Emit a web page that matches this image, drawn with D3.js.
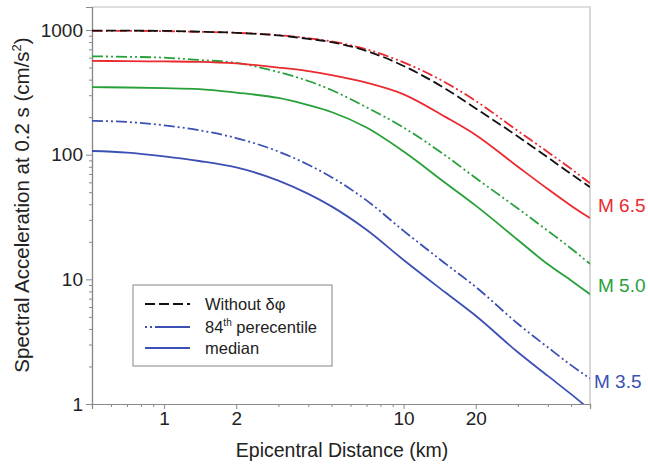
<!DOCTYPE html>
<html>
<head>
<meta charset="utf-8">
<script src="https://cdn.jsdelivr.net/npm/d3@7"></script>
<style>
  body { margin: 0; background: #fff; }
  svg { font-family: "Liberation Sans", Arial, sans-serif; }
</style>
</head>
<body>
<svg id="chart" width="648" height="466"></svg>
<script>
const SVG = d3.select('#chart');
const LEFT = 92;
const RIGHT = 590;
const TOP = 7;
const BOTTOM = 404;

// DATA
const distances = [0.5, 0.7, 1, 1.4, 2, 3, 4, 5, 7, 10, 15, 20, 30, 40, 50, 60];
const withoutDeltaPhi = [990, 988, 985, 970, 950, 905, 850, 800, 680, 515, 337, 235, 140, 95, 70, 55];
const m65p84 = [985, 984, 980, 968, 950, 910, 860, 810, 700, 550, 378, 270, 155, 105, 77, 59];
const m65Median = [565, 563, 560, 556, 540, 500, 468, 435, 378, 305, 200, 144, 80, 53, 39, 31];
const m50p84 = [615, 610, 600, 575, 545, 460, 390, 330, 240, 165, 98, 65, 37, 24.5, 17.7, 13.3];
const m50Median = [348, 346, 342, 336, 315, 285, 250, 220, 165, 106, 59, 39, 20.7, 13.2, 9.8, 7.6];
const m35p84 = [187, 183, 172, 157, 136, 106, 83, 66, 43, 24.5, 13.3, 8.7, 4.4, 2.85, 2.05, 1.6];
const m35Median = [107, 104, 97, 89, 79, 62, 48.5, 38.5, 25, 14.3, 7.8, 5.1, 2.6, 1.68, 1.2, 0.9];

const xMajorTicks = [1, 2, 10, 20];
const xMinorTicks = [0.6, 0.7, 0.8, 0.9, 3, 4, 5, 6, 7, 8, 9, 30, 40, 50];
const yMajorTicks = [1, 10, 100, 1000];
const yMinorTicks = [2, 3, 4, 5, 6, 7, 8, 9, 20, 30, 40, 50, 60, 70, 80, 90,
  200, 300, 400, 500, 600, 700, 800, 900];

const magLabels = ['M 6.5', 'M 5.0', 'M 3.5'];
const legendLabels = ['Without δφ', '84', 'median'];

const RED = '#ea2a2f';
const GREEN = '#27a03a';
const BLUE = '#3c50b4';
const DASHED = '10,4';
const DASH_DOT_DOT = '11,3,2,3,2,3';

const series = [
  { values: m35Median, color: BLUE, dash: null },
  { values: m35p84, color: BLUE, dash: DASH_DOT_DOT },
  { values: m50Median, color: GREEN, dash: null },
  { values: m50p84, color: GREEN, dash: DASH_DOT_DOT },
  { values: m65Median, color: RED, dash: null },
  { values: m65p84, color: RED, dash: DASH_DOT_DOT },
  { values: withoutDeltaPhi, color: '#111', dash: DASHED }
];

// SCALES
const x = d3.scaleLog().domain([0.5, 60]).range([LEFT, RIGHT]);
const y = d3.scaleLog().domain([1, 1530]).range([BOTTOM, TOP]);

SVG.append('clipPath').attr('id', 'plot-clip')
  .append('rect')
  .attr('x', LEFT).attr('y', TOP)
  .attr('width', RIGHT - LEFT).attr('height', BOTTOM - TOP);

// frame (top, right)
SVG.append('path')
  .attr('d', `M${LEFT},${TOP}H${RIGHT}V${BOTTOM}`)
  .attr('fill', 'none')
  .attr('stroke', '#bdbdbd')
  .attr('stroke-width', 1.2);

// AXES
const AXIS_COLOR = '#8a8a8a';

const xAxis = SVG.append('g').attr('transform', `translate(0,${BOTTOM})`);
xAxis.call(d3.axisBottom(x).tickValues(xMinorTicks).tickSize(3).tickFormat(''));
xAxis.append('g').call(d3.axisBottom(x).tickValues(xMajorTicks).tickSize(5).tickFormat(d3.format('d')));

const yAxis = SVG.append('g').attr('transform', `translate(${LEFT},0)`);
yAxis.call(d3.axisLeft(y).tickValues(yMinorTicks).tickSize(3).tickFormat(''));
yAxis.append('g').call(d3.axisLeft(y).tickValues(yMajorTicks).tickSize(6).tickFormat(d3.format('d')));

SVG.selectAll('.domain').attr('stroke', AXIS_COLOR).attr('stroke-width', 1.2);
SVG.selectAll('.tick line').attr('stroke', AXIS_COLOR);
SVG.selectAll('.tick text')
  .attr('fill', '#222')
  .style('font-size', '19px')
  .style('font-family', '"Liberation Sans", Arial, sans-serif');
xAxis.selectAll('.tick text').attr('y', 21).attr('dy', 0);
yAxis.selectAll('.tick text').attr('x', -9);

// axis titles
SVG.append('text')
  .attr('x', (LEFT + RIGHT) / 2 + 1)
  .attr('y', 457)
  .attr('text-anchor', 'middle')
  .attr('fill', '#222')
  .style('font-size', '19.5px')
  .text('Epicentral Distance (km)');

const yTitle = SVG.append('text')
  .attr('transform', 'translate(29,205) rotate(-90)')
  .attr('text-anchor', 'middle')
  .attr('fill', '#222')
  .style('font-size', '20.5px');
yTitle.append('tspan').text('Spectral Acceleration at 0.2 s (cm/s');
yTitle.append('tspan').attr('dy', -8).style('font-size', '13px').text('2');
yTitle.append('tspan').attr('dy', 8).text(')');

// CURVES
const line = d3.line()
  .x((d, i) => x(distances[i]))
  .y(d => y(d))
  .curve(d3.curveMonotoneX);

SVG.append('g')
  .attr('clip-path', 'url(#plot-clip)')
  .selectAll('path')
  .data(series)
  .join('path')
  .attr('d', d => line(d.values))
  .attr('fill', 'none')
  .attr('stroke', d => d.color)
  .attr('stroke-width', 1.8)
  .attr('stroke-dasharray', d => d.dash);

// magnitude labels
const magData = [
  { text: magLabels[0], color: RED, x: 598, y: 212 },
  { text: magLabels[1], color: GREEN, x: 598, y: 292 },
  { text: magLabels[2], color: BLUE, x: 594, y: 388 }
];
SVG.selectAll('.mag')
  .data(magData)
  .join('text')
  .attr('class', 'mag')
  .attr('x', d => d.x)
  .attr('y', d => d.y)
  .attr('fill', d => d.color)
  .style('font-size', '19px')
  .text(d => d.text);

// LEGEND
const legend = SVG.append('g').attr('transform', 'translate(133,285)');
legend.append('rect')
  .attr('width', 199).attr('height', 81)
  .attr('fill', '#fff')
  .attr('stroke', '#9a9a9a')
  .attr('stroke-width', 1.2);

const legendRows = [
  { color: '#111', dash: DASHED, y: 19 },
  { color: BLUE, dash: '2,3,2,3,40', y: 42 },
  { color: BLUE, dash: null, y: 63 }
];
legend.selectAll('line')
  .data(legendRows)
  .join('line')
  .attr('x1', 12).attr('x2', 57)
  .attr('y1', d => d.y).attr('y2', d => d.y)
  .attr('stroke', d => d.color)
  .attr('stroke-width', 1.8)
  .attr('stroke-dasharray', d => d.dash);

const legendText = legend.selectAll('text')
  .data(legendRows)
  .join('text')
  .attr('x', 72)
  .attr('y', d => d.y + 6)
  .attr('fill', '#222')
  .style('font-size', '16.5px');
legendText.filter((d, i) => i !== 1).text((d, i) => legendLabels[i === 0 ? 0 : 2]);
const pctText = legendText.filter((d, i) => i === 1);
pctText.append('tspan').text(legendLabels[1]);
pctText.append('tspan').attr('dy', -7).style('font-size', '10px').text('th');
pctText.append('tspan').attr('dy', 7).text(' perecentile');
</script>
</body>
</html>
